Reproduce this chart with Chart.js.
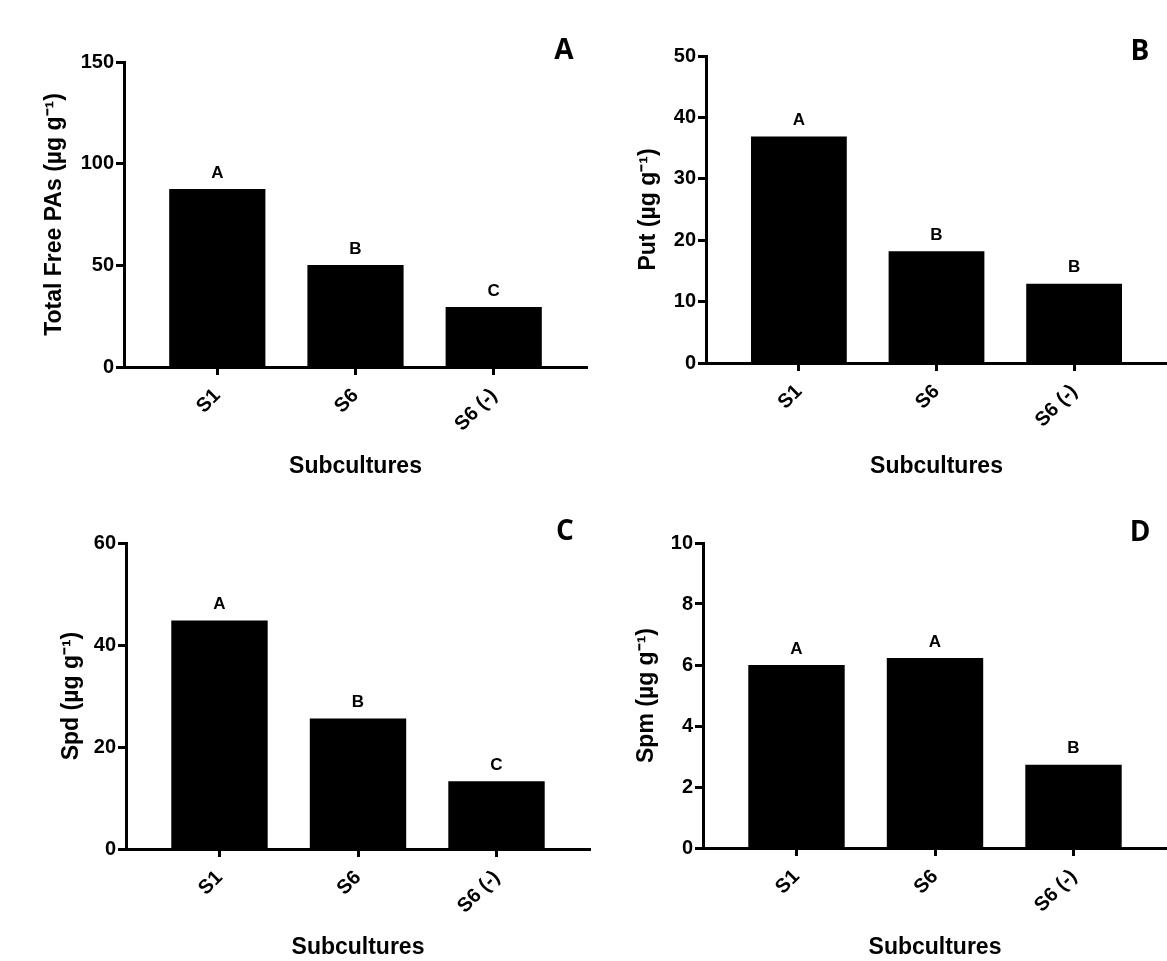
<!DOCTYPE html>
<html>
<head>
<meta charset="utf-8">
<script src="https://cdn.jsdelivr.net/npm/chart.js@4.4.1/dist/chart.umd.min.js"></script>
<style>
  html, body { margin: 0; padding: 0; background: #fff; }
  body { width: 1167px; height: 961px; position: relative; overflow: hidden; }
  canvas { position: absolute; }
</style>
</head>
<body>
<canvas id="chart-a" width="595" height="480" style="left:0;top:0"></canvas>
<canvas id="chart-b" width="572" height="480" style="left:595px;top:0"></canvas>
<canvas id="chart-c" width="595" height="481" style="left:0;top:480px"></canvas>
<canvas id="chart-d" width="572" height="481" style="left:595px;top:480px"></canvas>
<script>
// --- DATA ---
const categories = ['S1', 'S6', 'S6 (-)'];

const totalFreePAs = [87.5, 50.2, 29.5];
const putValues = [36.9, 18.2, 12.9];
const spdValues = [44.8, 25.6, 13.3];
const spmValues = [6.0, 6.23, 2.73];

const lettersA = ['A', 'B', 'C'];
const lettersB = ['A', 'B', 'B'];
const lettersC = ['A', 'B', 'C'];
const lettersD = ['A', 'A', 'B'];

const yTicksA = [0, 50, 100, 150];
const yTicksB = [0, 10, 20, 30, 40, 50];
const yTicksC = [0, 20, 40, 60];
const yTicksD = [0, 2, 4, 6, 8, 10];

// --- STYLE ---
const FONT = "'Liberation Sans', Arial, sans-serif";
const AXIS_W = 3;

function makePanel(id, values, letters, yTicks, yTitle, panelLetter, geo) {
    const ctx = document.getElementById(id).getContext('2d');

    // letters over bars + big panel letter
    const labelPlugin = {
        id: 'labels_' + id,
        afterDatasetsDraw(chart) {
            const c = chart.ctx;
            const meta = chart.getDatasetMeta(0);
            c.save();
            c.fillStyle = '#000';
            c.textAlign = 'center';
            c.textBaseline = 'middle';
            c.font = `bold 17px ${FONT}`;
            meta.data.forEach((bar, i) => {
                c.fillText(letters[i], bar.x, bar.y - 16);
            });
            c.font = `bold 28px 'Open Sans', ${FONT}`;
            c.fillText(panelLetter, geo.letterX, geo.letterY);
            c.restore();
        }
    };

    return new Chart(ctx, {
        type: 'bar',
        data: {
            datasets: [{
                data: values.map((v, i) => ({ x: i, y: v })),
                backgroundColor: '#000',
                borderWidth: 0,
                categoryPercentage: 1,
                barPercentage: 0.696
            }]
        },
        options: {
            responsive: false,
            animation: false,
            layout: { padding: { top: geo.top, right: geo.right, left: 0, bottom: 0 } },
            plugins: { legend: { display: false }, tooltip: { enabled: false } },
            scales: {
                x: {
                    type: 'linear',
                    offset: false,
                    min: -0.675,
                    max: categories.length - 1 + 0.675,
                    afterFit: s => { s.height = geo.xHeight; },
                    afterBuildTicks: s => { s.ticks = categories.map((c, i) => ({ value: i })); },
                    border: { color: '#000', width: AXIS_W },
                    grid: { offset: false, drawOnChartArea: false, drawTicks: true, tickLength: 8, tickWidth: AXIS_W, tickColor: '#000' },
                    ticks: {
                        color: '#000',
                        font: { family: FONT, size: 20, weight: 'bold' },
                        minRotation: 45, maxRotation: 45,
                        padding: 9,
                        callback: v => categories[v]
                    },
                    title: {
                        display: true, text: 'Subcultures', color: '#000',
                        font: { family: FONT, size: 23, weight: 'bold' },
                        padding: { top: 0, bottom: 0 }
                    }
                },
                y: {
                    min: yTicks[0],
                    max: yTicks[yTicks.length - 1],
                    afterFit: s => { s.width = geo.yWidth; },
                    afterBuildTicks: s => { s.ticks = yTicks.map(v => ({ value: v })); },
                    border: { color: '#000', width: AXIS_W },
                    grid: { drawOnChartArea: false, drawTicks: true, tickLength: 8, tickWidth: AXIS_W, tickColor: '#000' },
                    ticks: {
                        color: '#000',
                        font: { family: FONT, size: 20, weight: 'bold' },
                        padding: 2
                    },
                    title: {
                        display: true, text: yTitle, color: '#000',
                        font: { family: FONT, size: 23, weight: 'bold' },
                        padding: { top: geo.titlePad, bottom: 0 }
                    }
                }
            }
        },
        plugins: [labelPlugin]
    });
}

// --- PANELS ---
makePanel('chart-a', totalFreePAs, lettersA, yTicksA, 'Total Free PAs (\u00b5g g\u207b\u00b9)', 'A',
    { top: 62, right: 8, xHeight: 113, yWidth: 124, titlePad: 41, letterX: 564, letterY: 51 });
makePanel('chart-b', putValues, lettersB, yTicksB, 'Put (\u00b5g g\u207b\u00b9)', 'B',
    { top: 56, right: 0, xHeight: 117, yWidth: 111, titlePad: 40, letterX: 545, letterY: 52 });
makePanel('chart-c', spdValues, lettersC, yTicksC, 'Spd (\u00b5g g\u207b\u00b9)', 'C',
    { top: 63, right: 5, xHeight: 112, yWidth: 126, titlePad: 58, letterX: 565, letterY: 52 });
makePanel('chart-d', spmValues, lettersD, yTicksD, 'Spm (\u00b5g g\u207b\u00b9)', 'D',
    { top: 63, right: 0, xHeight: 113, yWidth: 108, titlePad: 38, letterX: 545, letterY: 53 });
</script>
</body>
</html>
